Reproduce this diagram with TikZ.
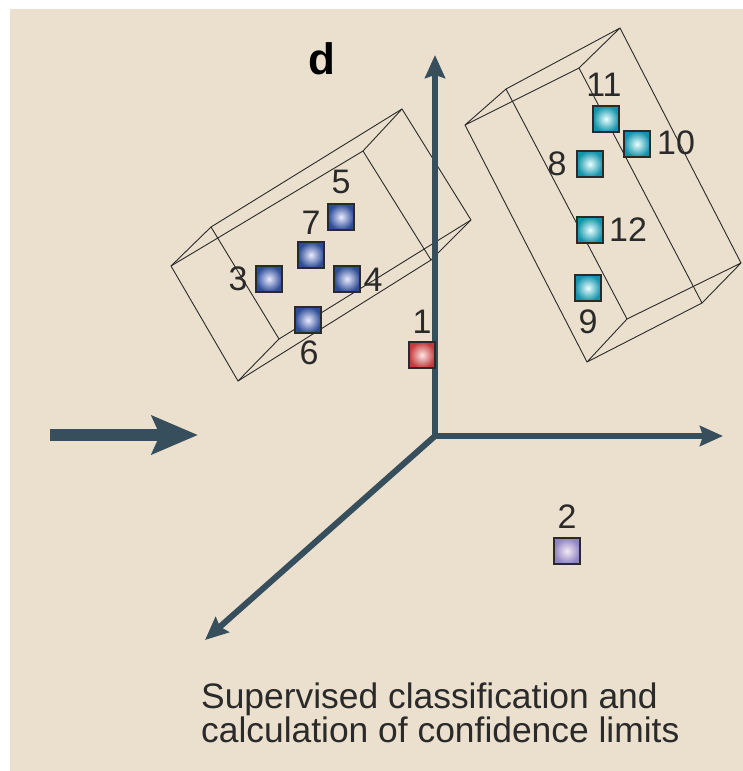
\documentclass[tikz,border=0pt]{standalone}
\usepackage{fontspec}
\setmainfont{Liberation Sans}
\usepackage{xcolor}
\usepackage{tikz}
\usetikzlibrary{positioning,arrows.meta}

\definecolor{paper}{RGB}{235,224,205}
\definecolor{axisblue}{RGB}{55,78,92}
\definecolor{ink}{RGB}{42,42,42}

\begin{document}
\begin{tikzpicture}[x=1pt, y=-1pt, >={Stealth[length=23pt,width=20pt,inset=3pt]},
  frame/.style={draw=ink, line width=0.9pt, line join=round},
  axis line/.style={draw=axisblue, line width=6pt},
  sample/.style={rectangle, minimum size=26pt, inner sep=0pt, draw=ink, line width=1.1pt},
  sample blue/.style={inner color=blue!8!white, outer color={rgb,255:red,44;green,76;blue,150}},
  sample teal/.style={inner color=cyan!8!white, outer color={rgb,255:red,18;green,146;blue,172}},
  sample red/.style={inner color=red!10!white, outer color={rgb,255:red,196;green,58;blue,58}},
  sample lilac/.style={inner color=violet!8!white, outer color={rgb,255:red,142;green,132;blue,192}},
  num/.style={inner sep=0pt, text=ink, font=\fontsize{34}{34}\selectfont}]

\useasboundingbox (0,0) rectangle (743,771);
\fill[paper] (10,9) rectangle (743,771);

\node [inner sep=0pt, text=black, font=\bfseries\fontsize{44}{44}\selectfont] (panel) at (322,59) {d};

% left box
\coordinate (lbox-1) at (171,266);
\coordinate (lbox-2) at (211,227);
\coordinate (lbox-3) at (279,339);
\coordinate (lbox-4) at (238,381);
\coordinate (lbox-5) at (363,151);
\coordinate (lbox-6) at (402,109);
\coordinate (lbox-7) at (471,220);
\coordinate (lbox-8) at (431,260);

% right box
\coordinate (rbox-1) at (465,125);
\coordinate (rbox-2) at (506,89);
\coordinate (rbox-3) at (620,28);
\coordinate (rbox-4) at (579,68);
\coordinate (rbox-5) at (587,362);
\coordinate (rbox-6) at (627,319);
\coordinate (rbox-7) at (741,263);
\coordinate (rbox-8) at (702,303);

\foreach \b in {lbox,rbox} {
  \draw [frame] (\b-1) -- (\b-2) -- (\b-3) -- (\b-4) -- cycle;
  \draw [frame] (\b-5) -- (\b-6) -- (\b-7) -- (\b-8) -- cycle;
  \foreach \i/\j in {1/5,2/6,3/7,4/8}
    \draw [frame] (\b-\i) -- (\b-\j);
}

% axes
\coordinate (origin) at (435,436);
\coordinate (x-end) at (723,436);
\coordinate (y-end) at (435,55);
\coordinate (z-end) at (205,640);
\draw [axis line, ->] (origin) -- (z-end);
\draw [axis line, <->] (y-end) -- (origin) -- (x-end);

\coordinate (feed-start) at (50,435);
\coordinate (feed-end) at (198,435);
\draw [draw=axisblue, line width=12pt, -{Stealth[length=46pt,width=38pt,inset=8pt]}] (feed-start) -- (feed-end);

\foreach \n/\x/\y/\c/\dx/\dy in {1/422/355/red/0/-33, 2/567/551/lilac/0/-34,
    3/269/279/blue/-31/0, 4/347/279/blue/26/1, 5/341/217/blue/0/-35,
    6/308/320/blue/1/33, 7/311/255/blue/0/-32,
    8/590/164/teal/-33/0, 9/588/288/teal/0/34, 10/637/144/teal/39/-1,
    11/606/119/teal/-2/-34, 12/590/230/teal/38/0}
{
  \node [sample, sample \c] (s-\n) at (\x,\y) {};
  \node [num] (n-\n) at ([shift={(\dx,\dy)}]s-\n.center) {\n};
}

\node [anchor=north west, inner sep=0pt, align=left, text=ink,
  font=\fontsize{35.4}{32}\selectfont] (caption) at (201,683)
  {Supervised classification and\\calculation of confidence limits};

\end{tikzpicture}
\end{document}
